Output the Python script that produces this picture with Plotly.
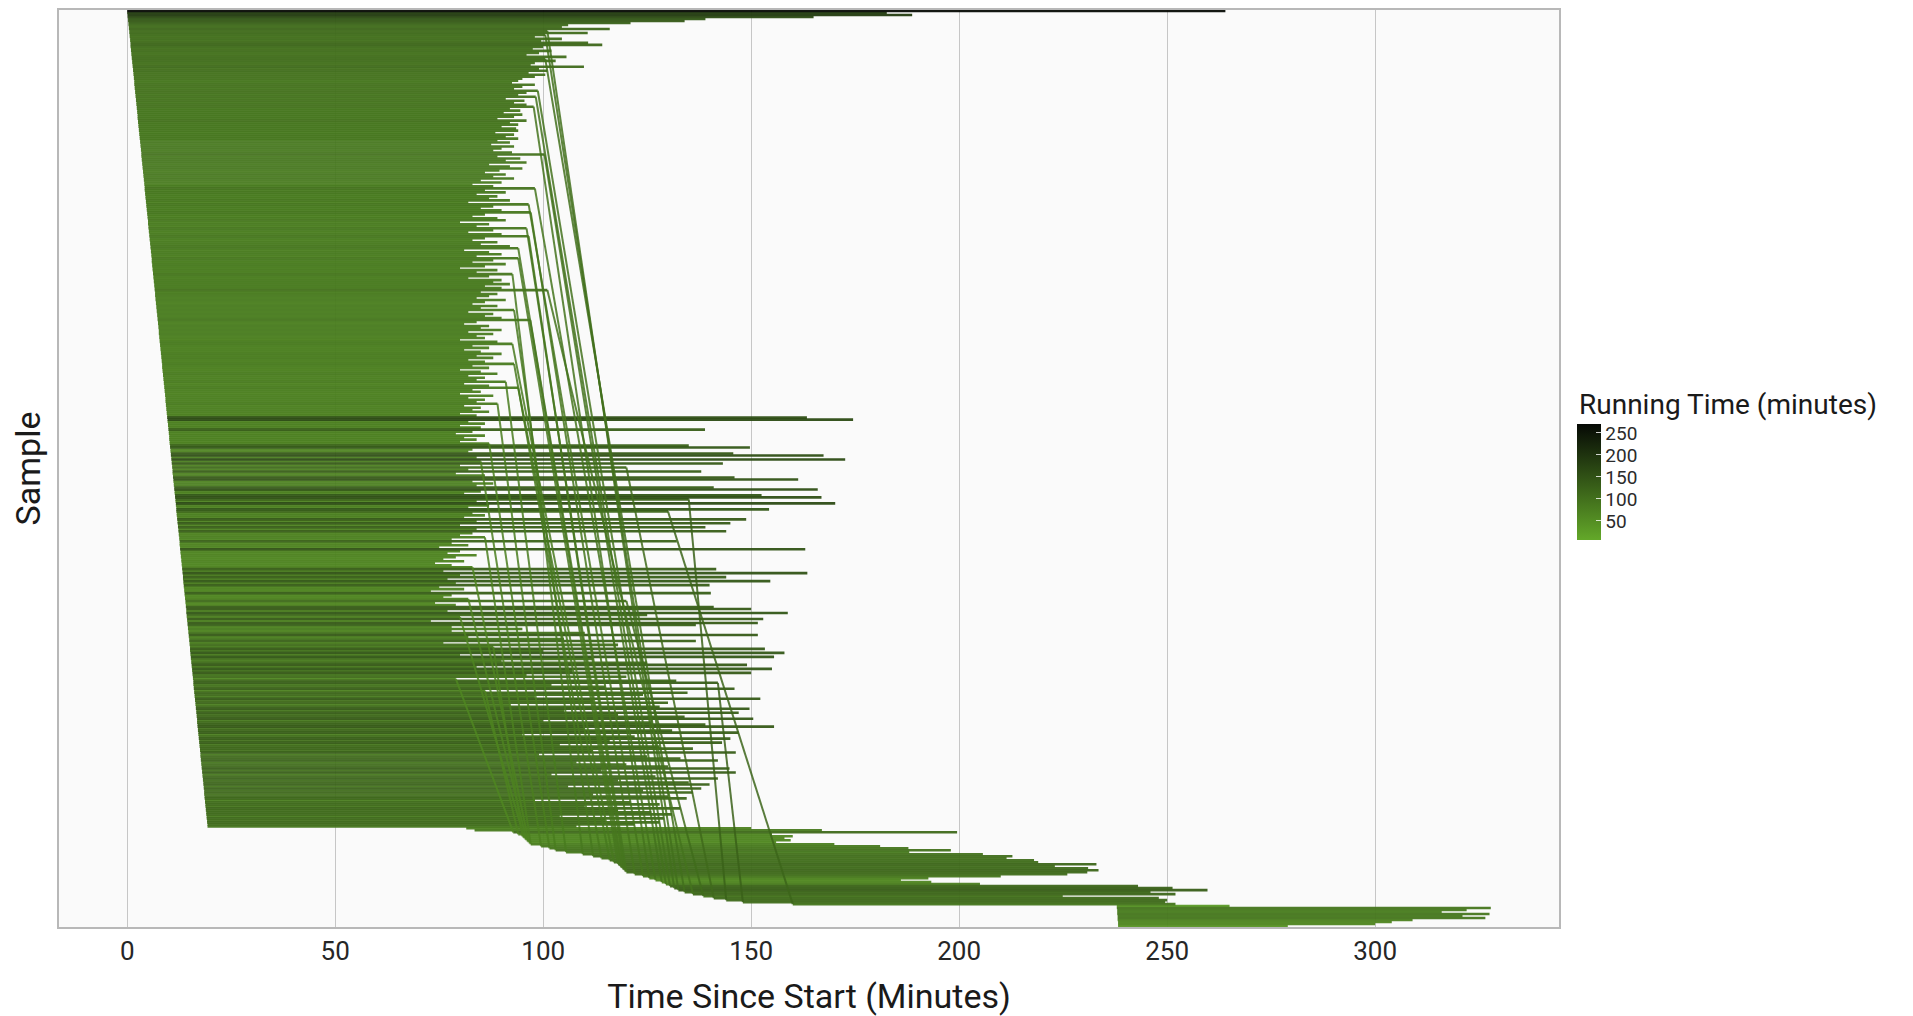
import plotly.graph_objects as go

# ---------------- data ----------------
# one entry per run, ordered top (row 0) to bottom; times in minutes since start
run_start = [
    # main block, rows 0-409
    0.0, 0.0, 0.1, 0.1, 0.2, 0.2, 0.3, 0.3, 0.4, 0.4,
    0.5, 0.5, 0.6, 0.6, 0.7, 0.7, 0.8, 0.8, 0.8, 0.9,
    0.9, 1.0, 1.0, 1.1, 1.1, 1.2, 1.2, 1.3, 1.3, 1.4,
    1.4, 1.5, 1.5, 1.6, 1.6, 1.7, 1.7, 1.7, 1.8, 1.8,
    1.9, 1.9, 2.0, 2.0, 2.1, 2.1, 2.2, 2.2, 2.3, 2.3,
    2.4, 2.4, 2.5, 2.5, 2.5, 2.6, 2.6, 2.7, 2.7, 2.8,
    2.8, 2.9, 2.9, 3.0, 3.0, 3.1, 3.1, 3.2, 3.2, 3.3,
    3.3, 3.4, 3.4, 3.4, 3.5, 3.5, 3.6, 3.6, 3.7, 3.7,
    3.8, 3.8, 3.9, 3.9, 4.0, 4.0, 4.1, 4.1, 4.2, 4.2,
    4.2, 4.3, 4.3, 4.4, 4.4, 4.5, 4.5, 4.6, 4.6, 4.7,
    4.7, 4.8, 4.8, 4.9, 4.9, 5.0, 5.0, 5.0, 5.1, 5.1,
    5.2, 5.2, 5.3, 5.3, 5.4, 5.4, 5.5, 5.5, 5.6, 5.6,
    5.7, 5.7, 5.8, 5.8, 5.9, 5.9, 5.9, 6.0, 6.0, 6.1,
    6.1, 6.2, 6.2, 6.3, 6.3, 6.4, 6.4, 6.5, 6.5, 6.6,
    6.6, 6.7, 6.7, 6.7, 6.8, 6.8, 6.9, 6.9, 7.0, 7.0,
    7.1, 7.1, 7.2, 7.2, 7.3, 7.3, 7.4, 7.4, 7.5, 7.5,
    7.6, 7.6, 7.6, 7.7, 7.7, 7.8, 7.8, 7.9, 7.9, 8.0,
    8.0, 8.1, 8.1, 8.2, 8.2, 8.3, 8.3, 8.4, 8.4, 8.4,
    8.5, 8.5, 8.6, 8.6, 8.7, 8.7, 8.8, 8.8, 8.9, 8.9,
    9.0, 9.0, 9.1, 9.1, 9.2, 9.2, 9.2, 9.3, 9.3, 9.4,
    9.4, 9.5, 9.5, 9.6, 9.6, 9.7, 9.7, 9.8, 9.8, 9.9,
    9.9, 10.0, 10.0, 10.1, 10.1, 10.1, 10.2, 10.2, 10.3, 10.3,
    10.4, 10.4, 10.5, 10.5, 10.6, 10.6, 10.7, 10.7, 10.8, 10.8,
    10.9, 10.9, 10.9, 11.0, 11.0, 11.1, 11.1, 11.2, 11.2, 11.3,
    11.3, 11.4, 11.4, 11.5, 11.5, 11.6, 11.6, 11.7, 11.7, 11.8,
    11.8, 11.8, 11.9, 11.9, 12.0, 12.0, 12.1, 12.1, 12.2, 12.2,
    12.3, 12.3, 12.4, 12.4, 12.5, 12.5, 12.6, 12.6, 12.6, 12.7,
    12.7, 12.8, 12.8, 12.9, 12.9, 13.0, 13.0, 13.1, 13.1, 13.2,
    13.2, 13.3, 13.3, 13.4, 13.4, 13.4, 13.5, 13.5, 13.6, 13.6,
    13.7, 13.7, 13.8, 13.8, 13.9, 13.9, 14.0, 14.0, 14.1, 14.1,
    14.2, 14.2, 14.2, 14.3, 14.3, 14.4, 14.4, 14.5, 14.5, 14.6,
    14.6, 14.7, 14.7, 14.8, 14.8, 14.9, 14.9, 15.0, 15.0, 15.1,
    15.1, 15.1, 15.2, 15.2, 15.3, 15.3, 15.4, 15.4, 15.5, 15.5,
    15.6, 15.6, 15.7, 15.7, 15.8, 15.8, 15.9, 15.9, 15.9, 16.0,
    16.0, 16.1, 16.1, 16.2, 16.2, 16.3, 16.3, 16.4, 16.4, 16.5,
    16.5, 16.6, 16.6, 16.7, 16.7, 16.8, 16.8, 16.8, 16.9, 16.9,
    17.0, 17.0, 17.1, 17.1, 17.2, 17.2, 17.3, 17.3, 17.4, 17.4,
    17.5, 17.5, 17.6, 17.6, 17.6, 17.7, 17.7, 17.8, 17.8, 17.9,
    17.9, 18.0, 18.0, 18.1, 18.1, 18.2, 18.2, 18.3, 18.3, 18.4,
    18.4, 18.5, 18.5, 18.5, 18.6, 18.6, 18.7, 18.7, 18.8, 18.8,
    18.9, 18.9, 19.0, 19.0, 19.1, 19.1, 19.2, 19.2, 19.3, 19.3,
    # queued runs, rows 410-459
    81.5, 83.5, 92.8, 94, 95, 95.5, 96, 96.5, 97, 99.5,
    101.5, 103, 105.5, 109.5, 112, 114, 116, 117, 118, 118.5,
    119, 119.5, 120, 122, 124, 125.5, 127, 128.5, 129.5, 130.5,
    131.5, 132.5, 134, 136, 138.5, 141, 144, 148, 160,
    237.9, 237.9, 238, 238, 238, 238.1, 238.1, 238.1, 238.2, 238.2, 238.2,
]

run_end = [
    264, 182.6, 188.7, 165, 139, 134, 121, 106, 104.5, 116,
    101, 110.7, 100.5, 98, 104.5, 99.5, 110.8, 114.2, 100, 97.5,
    102, 99, 96, 105.6, 100.5, 103, 98, 97, 109.8, 99,
    101, 96.5, 100.5, 98, 95, 94, 92.5, 98, 95, 93,
    98.7, 96, 94, 98.2, 91, 95.5, 93, 96, 97.7, 92,
    94.5, 90.5, 95, 93, 89, 96, 92, 94, 90, 93.5,
    94, 88.5, 93, 91, 94, 89, 92, 87.5, 93, 90,
    88, 92.5, 100.3, 89, 94.5, 91, 96, 87, 92, 95,
    89.5, 86, 91, 88, 93, 85, 90, 83, 88, 98,
    86, 91, 84, 89, 87, 92, 82, 96.5, 88, 85,
    90, 97, 86, 83, 89, 91, 80, 87, 84, 96,
    88, 82, 90, 96.5, 86, 83, 89, 85, 92, 94,
    81, 87, 90, 84, 94, 88, 83, 91, 86, 80,
    89, 84, 92.6, 87, 82, 90, 88, 92, 86, 90,
    101, 85, 89, 87, 84, 91, 86, 83, 89, 85,
    93, 82, 88, 86, 90, 96.9, 84, 81, 87, 85,
    90, 82, 88, 84, 86, 80, 89, 92.6, 83, 87,
    81, 85, 90, 84, 88, 82, 86, 93, 83, 87,
    80, 85, 89, 82, 86, 84, 91, 81, 87, 94,
    83, 85, 80, 88, 82, 86, 84, 89, 81, 85,
    83, 87, 80, 84, 163.4, 174.5, 82, 86, 80, 85,
    138.9, 83, 79, 86, 81, 84, 80, 87, 135, 149.7,
    83, 82, 145.7, 167.4, 84, 172.6, 85, 143.2, 80, 120,
    82, 138, 79, 86, 146, 161.3, 83, 88, 84, 141,
    166, 85, 81, 152.5, 166.9, 135, 84, 170.2, 87, 82,
    154.3, 130, 83, 86, 81, 148.8, 84, 145, 80, 139,
    84, 144, 83, 80, 86, 78, 132.1, 78, 82, 75,
    163, 80, 77, 84, 79, 76, 81, 74, 78, 83,
    141.6, 76, 163.5, 80, 144, 77, 154.6, 79, 140, 75,
    81, 73, 140.3, 78, 76, 82, 120, 74, 79, 141,
    150, 77, 158.8, 125, 80, 152.9, 73, 151.6, 136.7, 78,
    95, 78, 110, 151.6, 82, 105, 136.7, 76, 118, 88,
    153.3, 100, 158, 80, 155.5, 112, 90, 125, 149, 84,
    155, 107, 150, 96, 120, 79, 132, 142, 102, 115,
    146, 86, 134.7, 124, 98, 152.2, 112, 130, 92, 128,
    149.6, 105, 147, 118, 134, 150.5, 100, 126, 139, 155.5,
    110, 131, 147, 95, 122, 145, 116, 143, 104, 128,
    136, 112, 146.3, 99, 125, 133, 142, 108, 120, 130,
    144.8, 114, 146.3, 102, 127, 142, 118, 135, 140, 106,
    138, 124, 136, 112, 130, 134.5, 98, 121, 128, 110,
    133, 118, 126, 131, 104, 129, 115, 128, 122, 108,
    # queued runs, rows 410-459
    150, 167, 199.5, 155, 160, 158, 159.5, 156, 170, 181,
    187.8, 198, 188, 205.7, 212.8, 211.4, 218, 219, 233, 223,
    231, 233.5, 230.8, 226, 210, 192.6, 186, 193.3, 205, 243,
    251.3, 259.7, 246, 252, 224.9, 248, 250, 249.5, 252,
    265, 327.8, 322, 316, 327.5, 321, 326.5, 309, 304, 300, 279,
]

# samples that were run twice: row of the first run -> row of the re-run
rerun_first_row = [10, 12, 24, 40, 43, 72, 89, 48, 97, 101, 109, 113, 140,
                   155, 119, 124, 167, 189, 177, 150, 132, 186, 197, 217,
                   229, 245, 337, 226, 264, 279, 295, 304, 319, 341, 296,
                   251, 335]
rerun_second_row = [440, 441, 442, 439, 438, 437, 436, 435, 434, 433, 432,
                    431, 443, 430, 429, 428, 427, 426, 425, 424, 423, 422,
                    421, 420, 445, 446, 447, 419, 418, 417, 416, 415, 414,
                    413, 444, 448, 412]

x_ticks = [0, 50, 100, 150, 200, 250, 300]
colour_limits = [6.8, 270.5]          # running-time range shown by the legend
legend_ticks = [50, 100, 150, 200, 250]

assert len(run_start) == len(run_end) == 460, (len(run_start), len(run_end))
assert len(rerun_first_row) == len(rerun_second_row)

# ---------------- styling ----------------
LOW = (99, 168, 41)
HIGH = (6, 9, 5)
LO, HI = colour_limits
FONT = "Roboto"
ALPHA = 0.95
ROW_WIDTH = 2.6
N_BINS = 40

FIG_W, FIG_H = 1905, 1008          # page adds an 8 px body margin
M_L, M_R, M_T, M_B = 51, 354, 0, 89
PLOT_H = FIG_H - M_T - M_B


def colour_of(v, alpha=1.0):
    t = (v - LO) / (HI - LO)
    t = max(0.0, min(1.0, t))
    r, g, b = (round(LOW[i] + t * (HIGH[i] - LOW[i])) for i in range(3))
    return f"rgba({r},{g},{b},{alpha})"


def bin_of(v):
    t = (v - LO) / (HI - LO)
    return max(0, min(N_BINS - 1, int(t * N_BINS)))


def bin_centre(b):
    return LO + (b + 0.5) * (HI - LO) / N_BINS


fig = go.Figure()

# horizontal run segments, grouped by colour bin and row parity
groups = {}
for row, (s, e) in enumerate(zip(run_start, run_end)):
    key = (bin_of(e - s), row % 2)
    xs, ys = groups.setdefault(key, ([], []))
    xs += [s, e, None]
    ys += [row, row, None]

for (b, parity), (xs, ys) in sorted(groups.items()):
    fig.add_trace(go.Scatter(
        x=xs, y=ys, mode="lines", hoverinfo="skip", showlegend=False,
        line=dict(color=colour_of(bin_centre(b), ALPHA), width=ROW_WIDTH),
    ))

# links between first run and re-run of the same sample
for f, s in zip(rerun_first_row, rerun_second_row):
    rt = run_end[f] - run_start[f]
    fig.add_trace(go.Scatter(
        x=[run_end[f], run_start[s]], y=[f, s], mode="lines",
        hoverinfo="skip", showlegend=False,
        line=dict(color=colour_of(rt, 0.85), width=2),
    ))

# colour bar
fig.add_trace(go.Scatter(
    x=[-100, -100], y=[0, 0], mode="markers", hoverinfo="skip",
    showlegend=False,
    marker=dict(
        size=1, opacity=0, color=colour_limits, cmin=LO, cmax=HI,
        colorscale=[[0, colour_of(LO)], [1, colour_of(HI)]],
        showscale=True,
        colorbar=dict(
            x=(1577 - 59) / 1500, xanchor="left", xpad=0,
            y=(927 - 481) / PLOT_H, yanchor="middle", ypad=0,
            thickness=24, len=116, lenmode="pixels",
            outlinewidth=0, tickvals=legend_ticks,
            ticks="inside", ticklen=5, tickcolor="rgba(255,255,255,0.8)",
            tickfont=dict(family=FONT, size=19, color="#2b2b2b"),
        ),
    ),
))

n_rows = len(run_start)
fig.update_layout(
    width=FIG_W, height=FIG_H, autosize=False,
    margin=dict(l=M_L, r=M_R, t=M_T, b=M_B, pad=0),
    paper_bgcolor="white", plot_bgcolor="#fafafa",
    font=dict(family=FONT, color="#1a1a1a"),
    xaxis=dict(
        range=[-16.4, 344.2], tickvals=x_ticks, ticks="",
        showgrid=True, gridcolor="#c6c6c6", gridwidth=1.3,
        zeroline=False, showline=True, linecolor="#b8b8b8", linewidth=1.5,
        mirror=True, tickfont=dict(family=FONT, size=26, color="#262626"),
        title=dict(text="Time Since Start (Minutes)", standoff=20,
                   font=dict(family=FONT, size=34, color="#1a1a1a")),
    ),
    yaxis=dict(
        range=[n_rows - 0.5, -0.5], showticklabels=False, ticks="",
        showgrid=False, zeroline=False, showline=True,
        linecolor="#b8b8b8", linewidth=1.5, mirror=True,
        title=dict(text="Sample", standoff=8,
                   font=dict(family=FONT, size=34, color="#1a1a1a")),
    ),
    annotations=[dict(
        text="Running Time (minutes)", xref="paper", yref="paper",
        x=(1578 - 59) / 1500, y=(927 - 421) / PLOT_H, xanchor="left",
        yanchor="bottom", showarrow=False, borderpad=0,
        font=dict(family=FONT, size=28, color="#1a1a1a"),
    )],
)

fig.write_html("out.html")
